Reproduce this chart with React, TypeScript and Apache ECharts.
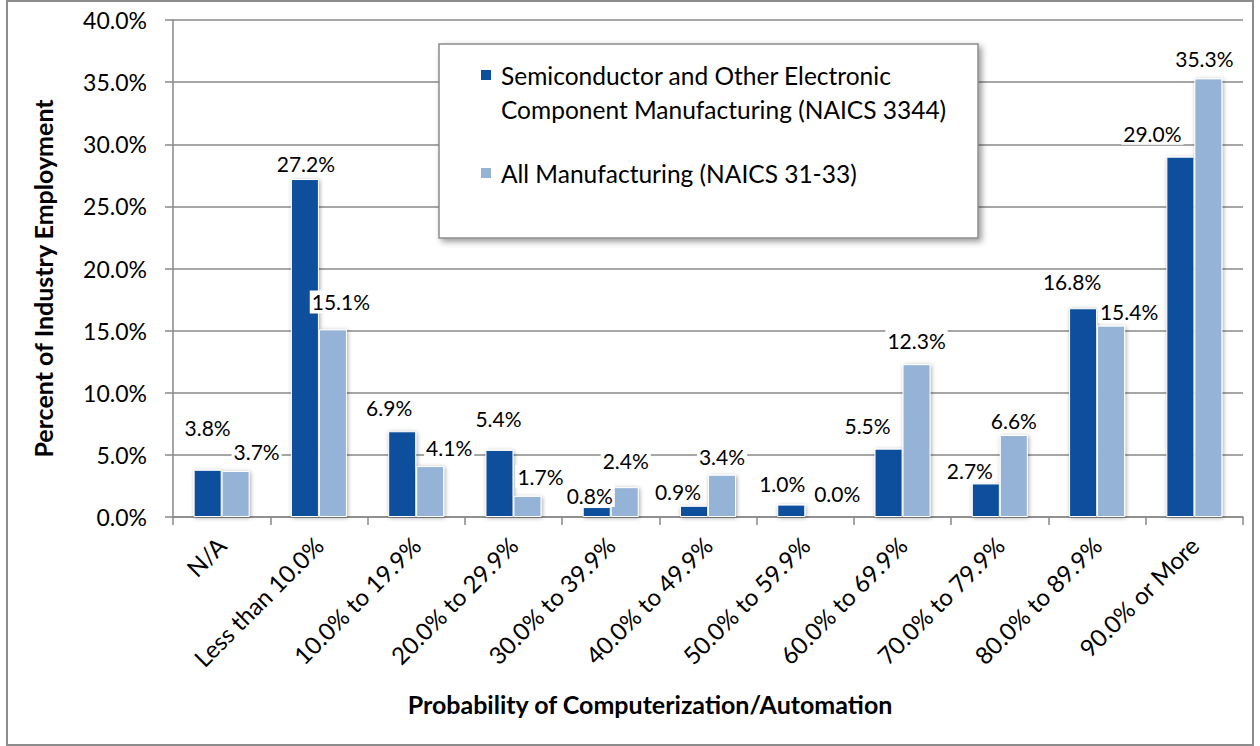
import React, { useEffect, useRef } from "react";
import * as echarts from "echarts";

const categories = [
  "N/A",
  "Less than 10.0%",
  "10.0% to 19.9%",
  "20.0% to 29.9%",
  "30.0% to 39.9%",
  "40.0% to 49.9%",
  "50.0% to 59.9%",
  "60.0% to 69.9%",
  "70.0% to 79.9%",
  "80.0% to 89.9%",
  "90.0% or More",
];

const semiconductorName = "Semiconductor and Other Electronic\nComponent Manufacturing (NAICS 3344)";
const allMfgName = "All Manufacturing (NAICS 31-33)";

const semiconductor = [3.8, 27.2, 6.9, 5.4, 0.8, 0.9, 1.0, 5.5, 2.7, 16.8, 29.0];
const allMfg = [3.7, 15.1, 4.1, 1.7, 2.4, 3.4, 0.0, 12.3, 6.6, 15.4, 35.3];

const yMin = 0;
const yMax = 40;
const yInterval = 5;

// label nudges (style only), in pixels [dx, dy]
const semiLabelShift = [
  [0, -28], [1, -1], [-13, -9], [-1, -17], [-7, 3], [-16, 0], [-9, -7], [-21, -9], [-16, 2], [-11, -12], [-28, -9],
];
const allLabelShift = [
  [21, -5], [8, -13], [19, -4], [13, -5], [1, -12], [0, -4], [18, -9], [0, -9], [0, 0], [18, 0], [-4, -5],
];

const FONT = "Lato, 'Open Sans', sans-serif";
const DARK = "#0B509C";
const LIGHT = "#95B3D7";
const GRID = "#898989";

function makeSeries(name: string, values: number[], color: string, shifts: number[][]) {
  return {
    name,
    type: "bar",
    barWidth: 28,
    barGap: "0%",
    itemStyle: {
      color,
      borderColor: "#ffffff",
      borderWidth: 1,
      shadowBlur: 4,
      shadowColor: "rgba(0,0,0,0.35)",
      shadowOffsetX: 1,
      shadowOffsetY: 1,
    },
    data: values.map((v, i) => ({
      value: v,
      label: { offset: shifts[i] },
    })),
    label: {
      show: true,
      position: "top",
      distance: 3,
      formatter: (p: any) => Number(p.value).toFixed(1) + "%",
      fontFamily: FONT,
      fontSize: 21,
      color: "#000",
      backgroundColor: "#ffffff",
      padding: [1, 2],
    },
  };
}

export default function App() {
  const ref = useRef<HTMLDivElement>(null);
  useEffect(() => {
    if (!ref.current) return;
    const chart = echarts.init(ref.current, undefined, { renderer: "svg" });
    const sq = (y: number) =>
      `path://M0,${y}L12,${y}L12,${y + 12}L0,${y + 12}Z M0,0L0.01,0L0.01,0.01Z M16,68L15.99,68L15.99,67.99Z`;
    chart.setOption({
      animation: false,
      backgroundColor: "#ffffff",
      textStyle: { fontFamily: FONT },
      grid: { left: 173, right: 17, top: 20, bottom: 229, containLabel: false },
      legend: {
        orient: "vertical",
        left: 479,
        top: 57,
        padding: 0,
        itemWidth: 16,
        itemHeight: 68,
        itemGap: 11,
        z: 20,
        selectedMode: false,
        textStyle: { fontFamily: FONT, fontSize: 24.5, color: "#000", lineHeight: 34 },
        data: [
          { name: semiconductorName, icon: sq(11) },
          { name: allMfgName, icon: sq(28) },
        ],
      },
      graphic: [
        {
          type: "rect",
          z: 10,
          shape: { x: 439, y: 44, width: 539, height: 194 },
          style: {
            fill: "#ffffff",
            stroke: "#8c8c8c",
            lineWidth: 1.5,
            shadowBlur: 6,
            shadowOffsetX: 3,
            shadowOffsetY: 3,
            shadowColor: "rgba(0,0,0,0.4)",
          },
        },
        {
          type: "rect",
          z: 30,
          shape: { x: 7, y: 1, width: 1246, height: 744 },
          style: { fill: "none", stroke: "#8c8c8c", lineWidth: 2 },
        },
      ],
      xAxis: {
        type: "category",
        data: categories,
        name: "Probability of Computerization/Automation",
        nameLocation: "middle",
        nameGap: 174,
        nameTextStyle: {
          fontFamily: FONT,
          fontSize: 25,
          fontWeight: "bold",
          color: "#000",
          padding: [0, 116, 0, 0],
        },
        axisLine: { show: true, lineStyle: { color: GRID, width: 1.5 } },
        axisTick: { show: true, length: 8, alignWithLabel: false, interval: 0, lineStyle: { color: GRID, width: 1.5 } },
        axisLabel: {
          interval: 0,
          rotate: 45,
          margin: 24,
          fontFamily: FONT,
          fontSize: 24,
          color: "#000",
        },
        splitLine: { show: false },
      },
      yAxis: {
        type: "value",
        min: yMin,
        max: yMax,
        interval: yInterval,
        name: "Percent of Industry Employment",
        nameLocation: "middle",
        nameGap: 118,
        nameTextStyle: {
          fontFamily: FONT,
          fontSize: 25,
          fontWeight: "bold",
          color: "#000",
          padding: [0, 20, 0, 0],
        },
        axisLine: { show: true, lineStyle: { color: GRID, width: 1.5 } },
        axisTick: { show: true, length: 8, lineStyle: { color: GRID, width: 1.5 } },
        axisLabel: {
          margin: 26,
          fontFamily: FONT,
          fontSize: 23,
          color: "#000",
          formatter: (v: number) => v.toFixed(1) + "%",
        },
        splitLine: { show: true, lineStyle: { color: GRID, width: 1.5 } },
      },
      series: [
        makeSeries(semiconductorName, semiconductor, DARK, semiLabelShift),
        makeSeries(allMfgName, allMfg, LIGHT, allLabelShift),
      ],
    });
    return () => chart.dispose();
  }, []);
  return (
    <div
      ref={ref}
      style={{ position: "fixed", left: 0, top: 0, width: 1260, height: 746, background: "#fff" }}
    />
  );
}
